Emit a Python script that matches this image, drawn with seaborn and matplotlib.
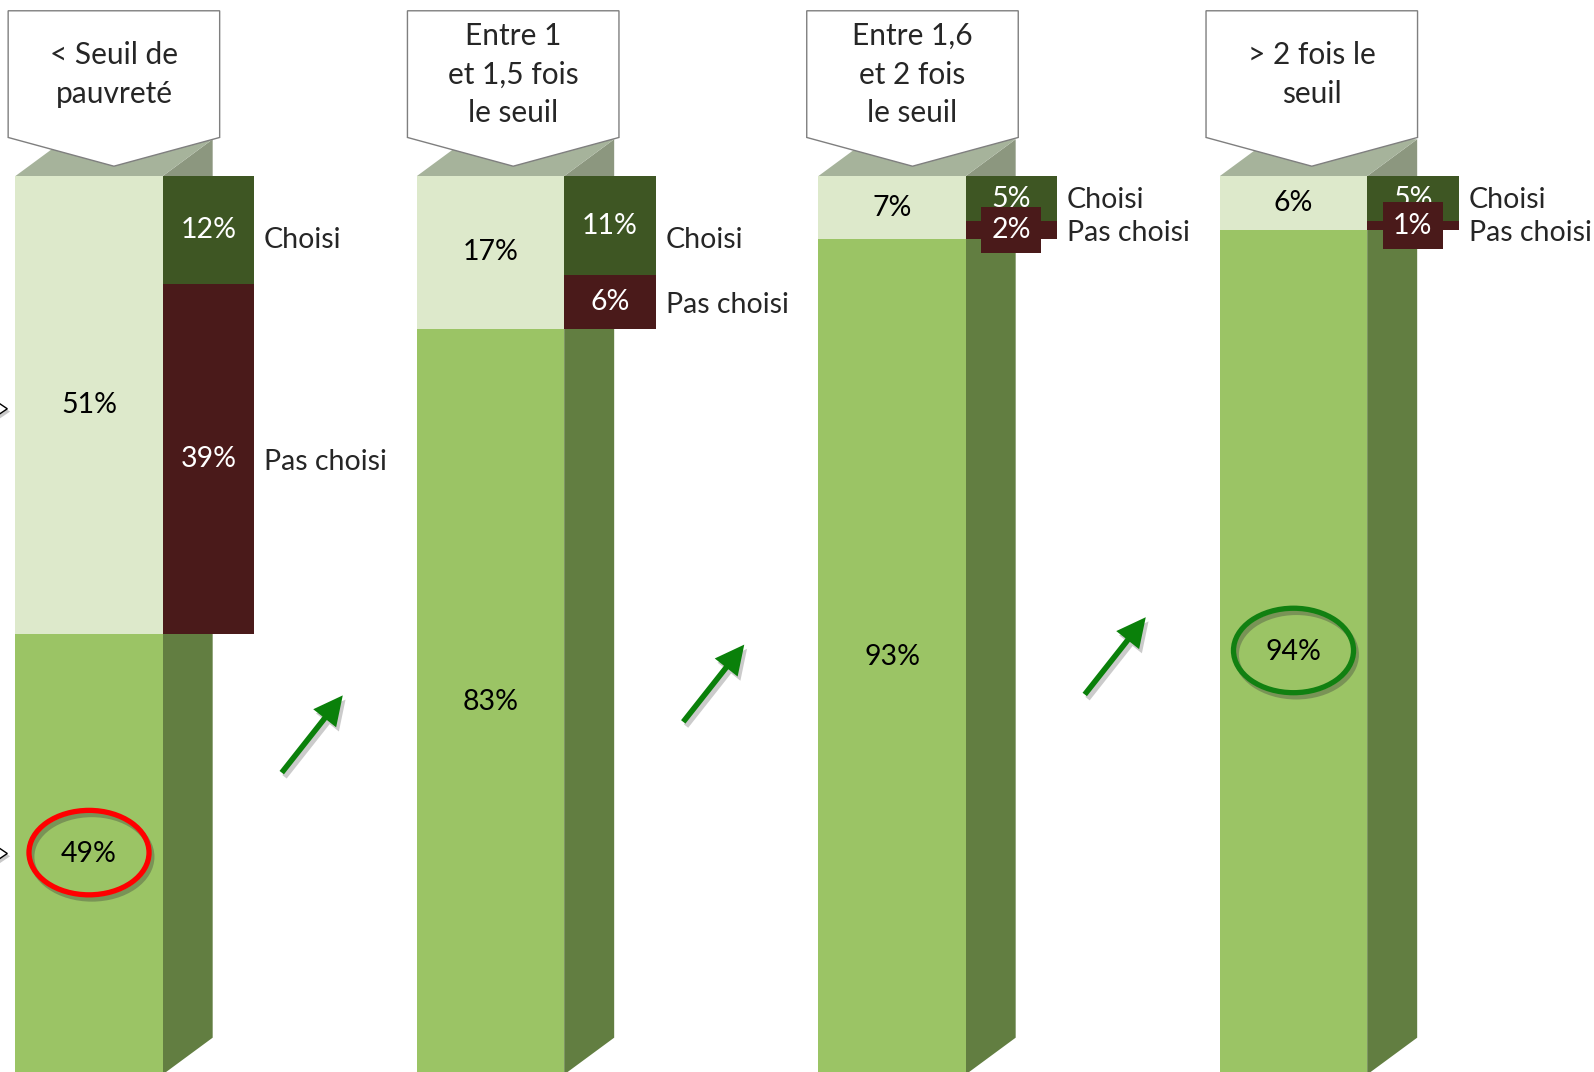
import matplotlib
matplotlib.use("Agg")
import matplotlib.pyplot as plt
from matplotlib.patches import Polygon, Ellipse, FancyArrowPatch
import matplotlib.patheffects as pe
import numpy as np
import pandas as pd
import seaborn as sns

# ---- data -------------------------------------------------------------
tranches = ["< Seuil de\npauvreté", "Entre 1\net 1,5 fois\nle seuil",
            "Entre 1,6\net 2 fois\nle seuil", "> 2 fois le\nseuil"]
temps_complet = [49, 83, 93, 94]          # % à temps complet
temps_partiel = [51, 17, 7, 6]            # % à temps partiel
partiel_choisi = [12, 11, 5, 5]           # temps partiel choisi
partiel_subi = [39, 6, 2, 1]              # temps partiel pas choisi
surlignes = {0: "#ff0000", 3: "#118011"}  # valeurs entourées

# ---- style ------------------------------------------------------------
sns.set_style("white")
plt.rcParams["font.family"] = ["Lato", "DejaVu Sans"]

PALE = "#dde9cb"
GREEN = "#9bc465"
SIDE_GREEN = "#627e41"
SIDE_PALE = "#8c977f"
TOP = "#a6b39b"
CHOISI = "#3e5623"
SUBI = "#4a1a1a"

FS = 20.5        # label font size
W = 0.367        # front face width
DX, DY = 0.1245, 4.1   # depth of the 3D effect
BW = 0.2275      # width of the split bar

df = pd.DataFrame({"tranche": tranches,
                   "complet": temps_complet,
                   "partiel": temps_partiel})
df["total"] = df["complet"] + df["partiel"]

fig = plt.figure(figsize=(15.94, 10.72), dpi=100)
ax = fig.add_axes([0, 0, 1, 1])

# front faces: full bar (part-time colour) then full-time part on top of it
sns.barplot(data=df, x="tranche", y="total", color=PALE, width=W,
            saturation=1, linewidth=0, edgecolor="none", ax=ax, zorder=2)
sns.barplot(data=df, x="tranche", y="complet", color=GREEN, width=W,
            saturation=1, linewidth=0, edgecolor="none", ax=ax, zorder=2)

for i, (c, p, ch, su) in enumerate(zip(temps_complet, temps_partiel,
                                       partiel_choisi, partiel_subi)):
    left = i - W / 2
    fr = i + W / 2
    tot = c + p
    # side faces
    ax.add_patch(Polygon([(fr, 0), (fr + DX, DY), (fr + DX, c + DY), (fr, c)],
                         closed=True, fc=SIDE_GREEN, ec="none", zorder=1))
    ax.add_patch(Polygon([(fr, c), (fr + DX, c + DY), (fr + DX, tot + DY), (fr, tot)],
                         closed=True, fc=SIDE_PALE, ec="none", zorder=1))
    # top face
    ax.add_patch(Polygon([(left, tot), (fr, tot), (fr + DX, tot + DY), (left + DX, tot + DY)],
                         closed=True, fc=TOP, ec="none", zorder=1))

    # split of the part-time share
    ax.bar(fr, su, width=BW, bottom=c, align="edge", color=SUBI, lw=0, zorder=3)
    ax.bar(fr, ch, width=BW, bottom=c + su, align="edge", color=CHOISI, lw=0, zorder=3)

    # values on the front face
    ax.text(i, c + p / 2, f"{p}%", ha="center", va="center", fontsize=FS,
            color="black", zorder=5)
    ax.text(i, c / 2, f"{c}%", ha="center", va="center", fontsize=FS,
            color="black", zorder=7)

    # values on the split bar
    bx = fr + BW / 2
    yc = c + su + ch / 2
    ys = c + su / 2
    ax.text(bx, yc, f"{ch}%", ha="center", va="center", fontsize=FS,
            color="white", zorder=5)
    small = su < 3
    ax.text(bx, ys, f"{su}%", ha="center", va="center", fontsize=FS,
            color="white", zorder=6,
            bbox=dict(boxstyle="square,pad=0.36", fc=SUBI, ec="none") if small else None)

    # names of the split
    lx = fr + BW + 0.025
    yc_lab = min(yc - (1.1 if ch >= 10 else 0.2), 92.9 if ch >= 10 else 100)
    ys_lab = min(ys - 0.3, yc_lab - 3.6)
    ax.text(lx, yc_lab, "Choisi", ha="left", va="center", fontsize=FS, zorder=5)
    ax.text(lx, ys_lab, "Pas choisi", ha="left", va="center", fontsize=FS, zorder=5)

    # header tag
    hc = i + 0.062 - 0.0055 * i
    hw = 0.2634
    ax.add_patch(Polygon([(hc - hw, 118.4), (hc + hw, 118.4), (hc + hw, 104.3),
                          (hc, 101.1), (hc - hw, 104.3)],
                         closed=True, fc="white", ec="#7f7f7f", lw=1.0, zorder=4))
    ax.text(hc, 111.3, tranches[i], ha="center", va="center",
            fontsize=21.5, linespacing=1.45, zorder=5)

# circled values
for i, col in surlignes.items():
    e = Ellipse((i + 0.0, temps_complet[i] / 2 + 0.2), 0.299, 9.4, fill=False,
                ec=col, lw=3.8, zorder=6)
    e.set_path_effects([pe.SimpleLineShadow(offset=(2, -3), shadow_color="#3a3a3a",
                                            alpha=0.35),
                        pe.Normal()])
    ax.add_patch(e)

# progression arrows between the groups
shadow = [pe.SimplePatchShadow(offset=(2, -3), shadow_rgbFace="#555555", alpha=0.3),
          pe.Normal()]
for j in range(3):
    x0 = j + 0.48
    y0 = [33.6, 39.25, 42.3][j]
    arr = FancyArrowPatch((x0, y0), (x0 + 0.152, y0 + 8.6),
                          arrowstyle="simple,head_length=1.05,head_width=1.05,tail_width=0.2",
                          mutation_scale=20, fc="#0a800a", ec="none",
                          shrinkA=0, shrinkB=0, zorder=6)
    arr.set_path_effects(shadow)
    ax.add_patch(arr)

# pointers at the left border
for yy in [74.1, 24.6]:
    tri = Polygon([(-0.25, yy + 1.4), (-0.2035, yy), (-0.25, yy - 1.4)],
                  closed=True, fc="white", ec="black", lw=1.0, zorder=6)
    tri.set_path_effects([pe.SimplePatchShadow(offset=(2, -2), alpha=0.3), pe.Normal()])
    ax.add_patch(tri)

ax.set_xlim(-0.2217, 3.7484)
ax.set_ylim(0.28, 119.6)
ax.axis("off")

fig.savefig("out.png", dpi=100)
